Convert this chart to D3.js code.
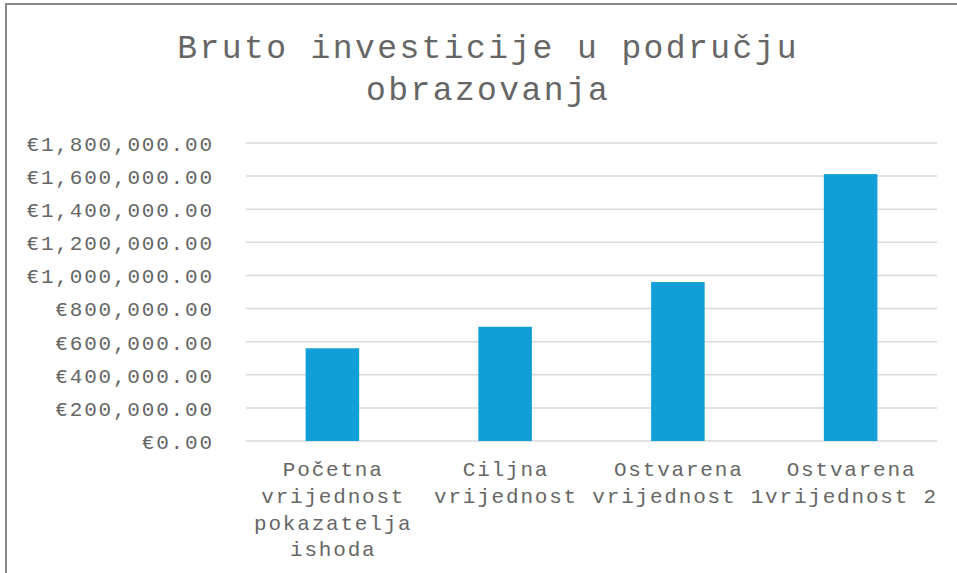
<!DOCTYPE html>
<html><head><meta charset="utf-8">
<script src="https://cdn.jsdelivr.net/npm/d3@7"></script>
<style>html,body{margin:0;padding:0;background:#fff;overflow:hidden}</style>
</head><body>
<script>
const title = ["Bruto investicije u području", "obrazovanja"];
const categories = ["Početna vrijednost pokazatelja ishoda", "Ciljna vrijednost", "Ostvarena vrijednost 1", "Ostvarena vrijednost 2"];
const categoryLines = [["Početna", "vrijednost", "pokazatelja", "ishoda"], ["Ciljna", "vrijednost"], ["Ostvarena", "vrijednost 1"], ["Ostvarena", "vrijednost 2"]];
const values = [560000, 690000, 960000, 1612000];
const yTicks = [0, 200000, 400000, 600000, 800000, 1000000, 1200000, 1400000, 1600000, 1800000];

const W = 957, H = 573;
const font = "'Liberation Mono', 'Courier New', monospace";
const textColor = "#666666";
const svg = d3.select("body").append("svg").attr("width", W).attr("height", H);

svg.append("rect").attr("x", 6).attr("y", 4).attr("width", 1000).attr("height", 1000)
  .attr("fill", "#fff").attr("stroke", "#898989").attr("stroke-width", 2);

const x = d3.scaleBand().domain(categories).range([246, 937]).paddingInner(0.69).paddingOuter(0.345);
const y = d3.scaleLinear().domain([0, 1800000]).range([441, 143]);

// text sizing: glyphs slightly smaller, advance kept at Courier-like 14.4px / 22.2px
const lblSize = 21, lblSpacing = 24 * 0.6 - 21 * 0.6;
const ttlSize = 33, ttlSpacing = 37 * 0.6 - 33 * 0.6;

// gridlines
svg.append("g").selectAll("line").data(yTicks).join("line")
  .attr("x1", 246).attr("x2", 937)
  .attr("y1", d => y(d)).attr("y2", d => y(d))
  .attr("stroke", "#d9d9d9").attr("stroke-width", 1.5);

// y axis labels
const fmt = d3.format(",.2f");
const yAxis = d3.axisLeft(y).tickValues(yTicks).tickSize(0).tickPadding(0).tickFormat(d => "€" + fmt(d));
const ya = svg.append("g").attr("transform", "translate(" + (212 + lblSpacing) + ",0)").call(yAxis);
ya.select(".domain").remove();
ya.selectAll("text").attr("font-family", font).attr("font-size", lblSize)
  .attr("letter-spacing", lblSpacing).attr("fill", textColor).attr("dy", "0.35em");

// bars
svg.append("g").selectAll("rect").data(values).join("rect")
  .attr("x", (d, i) => x(categories[i]))
  .attr("width", x.bandwidth())
  .attr("y", d => y(d))
  .attr("height", d => y(0) - y(d))
  .attr("fill", "#129fd7");

// category labels
const cg = svg.append("g");
categoryLines.forEach((lines, i) => {
  const cx = x(categories[i]) + x.bandwidth() / 2 + lblSpacing / 2;
  const t = cg.append("text").attr("text-anchor", "middle").attr("font-family", font)
    .attr("font-size", lblSize).attr("letter-spacing", lblSpacing).attr("fill", textColor);
  lines.forEach((l, j) => t.append("tspan").attr("x", cx).attr("y", 476 + j * 26.8).text(l));
});

// title
const tt = svg.append("text").attr("text-anchor", "middle").attr("font-family", font)
  .attr("font-size", ttlSize).attr("letter-spacing", ttlSpacing).attr("fill", textColor);
title.forEach((l, j) => tt.append("tspan").attr("x", 487 + ttlSpacing / 2).attr("y", 58 + j * 42).text(l));
</script>
</body></html>
